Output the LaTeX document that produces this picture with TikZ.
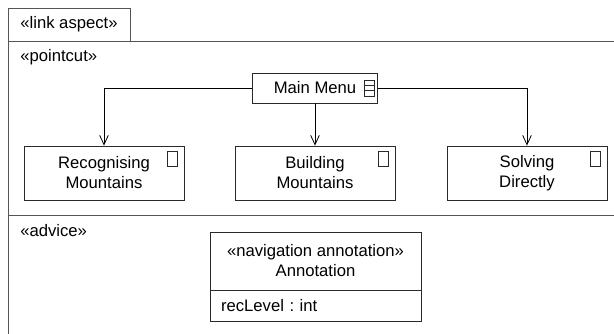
\documentclass[tikz,border=0pt]{standalone}
\usepackage{fontspec}
\setmainfont{Liberation Sans}
\usepackage{xcolor}
\usepackage{tikz}
\usetikzlibrary{arrows.meta,positioning}
\definecolor{UMLLine}{HTML}{2A2A2A}
\definecolor{UMLFrame}{HTML}{555555}
\frenchspacing

\begin{document}
\begin{tikzpicture}[x=0.75pt,y=-0.75pt,
  font=\fontsize{12.5pt}{15pt}\selectfont,
  box/.style={draw=UMLLine,line width=0.6pt,inner sep=0pt,align=center},
  child/.style={box,minimum width=120pt,minimum height=40.5pt},
  icon/.style={draw=UMLLine,line width=0.5pt},
  nav/.style={draw=black,line width=0.6pt,-{Straight Barb[length=7pt,width=6.5pt]}},
  frameline/.style={draw=UMLFrame,line width=0.6pt},
  stereo/.style={anchor=west,inner sep=0pt}]
\path[use as bounding box] (0,0) rectangle (614,334);
% package frame with its tab
\node[box,draw=UMLFrame,minimum width=91.5pt,minimum height=24.75pt] (tab) at (69,24.5) {«link aspect»};
\draw[frameline] (8,41) -- (614,41);
\draw[frameline] (8,41) -- (8,334);
\draw[frameline] (8,215) -- (614,215);
\node[stereo] (pointcut) at (20,57) {«pointcut»};
\node[stereo] (advice) at (20,231) {«advice»};
% pointcut: menu and the three pages
\node[box,minimum width=93.75pt,minimum height=22.5pt] (menu) at (315,88) {Main Menu};
\draw[icon] (menu.east) ++(-14,-8) rectangle ++(10,16);
\draw[icon] (menu.east) ++(-14,-2.67) -- ++(10,0);
\draw[icon] (menu.east) ++(-14,2.67) -- ++(10,0);
\node[child] (recog) at (104,173) {Recognising\\Mountains};
\node[child] (build) at (315,173) {Building\\Mountains};
\node[child] (solve) at (527,173) {Solving\\Directly};
\foreach \page in {recog,build,solve}
  \draw[icon] (\page.north east) ++(-17,6) rectangle ++(10,15);
\draw[nav] (menu.west) -| (recog.north);
\draw[nav] (menu.south) -- (build.north);
\draw[nav] (menu.east) -| (solve.north);
% advice: annotation class
\node[box,minimum width=158.25pt,minimum height=43.5pt] (annhead) at (315.5,261) {«navigation annotation»\\Annotation};
\node[box,below=-0.6pt of annhead,minimum height=23.25pt,text width=141.75pt,inner xsep=8.25pt,align=left] (annattr) {recLevel : int};
\end{tikzpicture}
\end{document}
